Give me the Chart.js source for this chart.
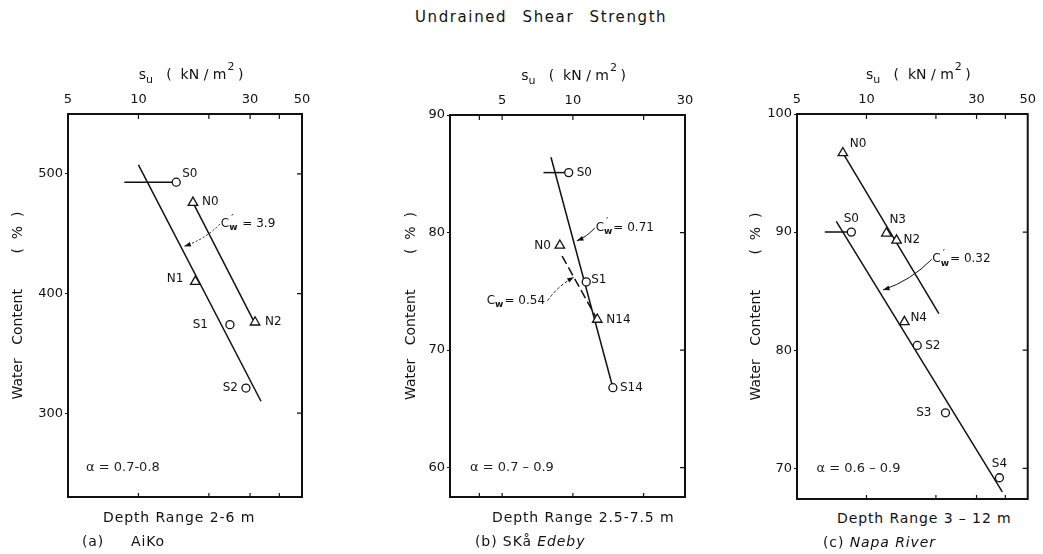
<!DOCTYPE html>
<html>
<head>
<meta charset="utf-8">
<script src="https://cdn.jsdelivr.net/npm/chart.js@4.4.0/dist/chart.umd.min.js"></script>
<style>
  body { margin: 0; background: #fff; width: 1043px; height: 554px; position: relative; overflow: hidden;
         font-family: 'DejaVu Sans', sans-serif; color: #111; }
  #title { position: absolute; top: 8px; left: 415px; font-size: 15px; word-spacing: 9px; letter-spacing: 1.6px; white-space: pre; }
  canvas { position: absolute; top: 40px; }
  .cap { position: absolute; font-size: 14px; letter-spacing: 0.9px; white-space: pre; }
  .it { font-style: italic; }
</style>
</head>
<body>
<div id="title">Undrained Shear Strength</div>

<canvas id="aiko" width="330" height="470" style="left:0px"></canvas>
<canvas id="edeby" width="330" height="470" style="left:380px"></canvas>
<canvas id="napa" width="318" height="470" style="left:725px"></canvas>

<div class="cap" style="left:103px;top:509px">Depth Range 2-6 m</div>
<div class="cap" style="left:82px;top:533px">(a)     AiKo</div>
<div class="cap" style="left:492px;top:509px">Depth Range 2.5-7.5 m</div>
<div class="cap" style="left:475px;top:533px">(b) SKå <span class="it">Edeby</span></div>
<div class="cap" style="left:837px;top:510px">Depth Range 3 – 12 m</div>
<div class="cap" style="left:823px;top:534px">(c) <span class="it">Napa River</span></div>

<script>
// --- (a) AiKo ---
const aikoSNames = ['S0', 'S1', 'S2'];
const aikoSSu = [14.5, 24.6, 28.8];
const aikoSW = [493, 374, 321];
const aikoNNames = ['N0', 'N1', 'N2'];
const aikoNSu = [17.1, 17.5, 31.5];
const aikoNW = [476, 410, 376];
const aikoSLineSu = [10, 33.4];
const aikoSLineW = [507.5, 310];
const aikoNLineSu = [17.3, 30.9];
const aikoNLineW = [474, 378];
const aikoS0RangeSu = [8.7, 14.5];
const aikoS0RangeW = [493, 493];
const aikoXLabels = [5, 10, 30, 50];
const aikoXMarks = [10, 20, 30, 40];
const aikoYTicks = [300, 400, 500];

// --- (b) Skå Edeby ---
const edebySNames = ['S0', 'S1', 'S14'];
const edebySSu = [9.6, 11.4, 14.8];
const edebySW = [85.1, 75.8, 66.8];
const edebyNNames = ['N0', 'N14'];
const edebyNSu = [8.8, 12.7];
const edebyNW = [78.9, 72.6];
const edebySLineSu = [8.07, 14.8];
const edebySLineW = [86.4, 66.8];
const edebyNLineSu = [9.0, 12.7];
const edebyNLineW = [78.0, 72.6];
const edebyS0RangeSu = [7.5, 9.6];
const edebyS0RangeW = [85.1, 85.1];
const edebyXLabels = [5, 10, 30];
const edebyXMarks = [4, 5, 10, 20];
const edebyYTicks = [60, 70, 80, 90];

// --- (c) Napa River ---
const napaSNames = ['S0', 'S2', 'S3', 'S4'];
const napaSSu = [8.6, 16.6, 22, 37.7];
const napaSW = [90, 80.4, 74.7, 69.2];
const napaNNames = ['N0', 'N3', 'N2', 'N4'];
const napaNSu = [7.9, 12.2, 13.5, 14.6];
const napaNW = [96.7, 89.9, 89.3, 82.4];
const napaSLineSu = [7.4, 38.8];
const napaSLineW = [90.9, 68];
const napaNLineSu = [7.9, 20.6];
const napaNLineW = [96.7, 83.1];
const napaS0RangeSu = [6.6, 8.6];
const napaS0RangeW = [90, 90];
const napaXLabels = [5, 10, 30, 50];
const napaXMarks = [10, 20, 30, 40];
const napaYTicks = [70, 80, 90, 100];

const FONT = "'DejaVu Sans', sans-serif";
const INK = '#111';

const pts = (xs, ys) => xs.map((x, i) => ({ x: x, y: ys[i] }));

// frame box + inward tick marks on all four sides
const framePlugin = {
  id: 'frame',
  afterDatasetsDraw(chart) {
    const { ctx, chartArea: a, scales } = chart;
    const p = chart.options.plugins.frame;
    ctx.save();
    ctx.strokeStyle = INK;
    ctx.lineWidth = 1.2;
    ctx.beginPath();
    p.xMarks.forEach(v => {
      const x = scales.x.getPixelForValue(v);
      ctx.moveTo(x, a.top); ctx.lineTo(x, a.top + 5);
      ctx.moveTo(x, a.bottom); ctx.lineTo(x, a.bottom - 4);
    });
    p.yTicks.forEach(v => {
      const y = scales.y.getPixelForValue(v);
      ctx.moveTo(a.right, y); ctx.lineTo(a.right - 5, y);
    });
    ctx.stroke();
    ctx.lineWidth = 2;
    ctx.strokeRect(a.left, a.top, a.right - a.left, a.bottom - a.top);
    ctx.restore();
  }
};

// C'w / Cw style label: C with prime and subscript w
function drawCw(ctx, x, y, prime, rest) {
  ctx.font = '12px ' + FONT;
  ctx.textAlign = 'left';
  ctx.textBaseline = 'middle';
  ctx.fillText('C', x, y);
  const w = ctx.measureText('C').width;
  ctx.font = 'bold 9px ' + FONT;
  ctx.fillText('w', x + w, y + 4);
  const ww = ctx.measureText('w').width;
  if (prime) {
    ctx.font = '10px ' + FONT;
    ctx.fillText('′', x + w + 2, y - 5);
  }
  ctx.font = '12px ' + FONT;
  ctx.fillText(rest, x + w + ww + 1, y);
}

function drawArrow(ctx, x1, y1, x2, y2, dash) {
  ctx.save();
  ctx.strokeStyle = INK;
  ctx.fillStyle = INK;
  ctx.lineWidth = 1;
  ctx.setLineDash(dash || []);
  const mx = (x1 + x2) / 2, my = (y1 + y2) / 2;
  const cx = mx + (y2 - y1) * 0.12, cy = my - (x2 - x1) * 0.12;
  ctx.beginPath();
  ctx.moveTo(x1, y1);
  ctx.quadraticCurveTo(cx, cy, x2, y2);
  ctx.stroke();
  ctx.setLineDash([]);
  const ang = Math.atan2(y2 - cy, x2 - cx);
  ctx.beginPath();
  ctx.moveTo(x2, y2);
  ctx.lineTo(x2 - 7 * Math.cos(ang - 0.35), y2 - 7 * Math.sin(ang - 0.35));
  ctx.lineTo(x2 - 7 * Math.cos(ang + 0.35), y2 - 7 * Math.sin(ang + 0.35));
  ctx.closePath();
  ctx.fill();
  ctx.restore();
}

// sample names, slope notes, alpha range and the s_u axis title
const notesPlugin = {
  id: 'notes',
  afterDraw(chart) {
    const { ctx, chartArea: a, scales } = chart;
    const p = chart.options.plugins.notes;
    const px = v => scales.x.getPixelForValue(v);
    const py = v => scales.y.getPixelForValue(v);
    ctx.save();
    ctx.fillStyle = INK;

    chart.data.datasets.forEach((ds, di) => {
      if (!ds.names) return;
      const meta = chart.getDatasetMeta(di);
      ctx.font = '12px ' + FONT;
      ctx.textBaseline = 'middle';
      ds.names.forEach((n, i) => {
        const el = meta.data[i];
        const [dx, dy, al] = ds.namePos[i];
        ctx.textAlign = al;
        ctx.fillText(n, el.x + dx, el.y + dy);
      });
    });

    p.notes.forEach(n => {
      drawCw(ctx, px(n.at[0]), py(n.at[1]), n.prime, n.rest);
      drawArrow(ctx, px(n.from[0]), py(n.from[1]), px(n.to[0]), py(n.to[1]), n.dash);
    });

    ctx.font = '13px ' + FONT;
    ctx.textAlign = 'left';
    ctx.textBaseline = 'middle';
    ctx.fillStyle = '#222';
    ctx.fillText(p.alpha, px(p.alphaAt[0]), py(p.alphaAt[1]));

    // s_u ( kN / m² )
    ctx.fillStyle = INK;
    const cx = (a.left + a.right) / 2 + 6, cy = a.top - 39;
    ctx.font = '14px ' + FONT;
    const ws = ctx.measureText('s').width;
    const rest = '   (  kN / m';
    const wr = ctx.measureText(rest).width;
    const wc = ctx.measureText(' )').width;
    ctx.font = '11px ' + FONT;
    const wu = ctx.measureText('u').width;
    const w2 = ctx.measureText('2').width;
    let x = cx - (ws + wu + wr + w2 + wc) / 2;
    ctx.font = '14px ' + FONT;
    ctx.fillText('s', x, cy); x += ws;
    ctx.font = '11px ' + FONT;
    ctx.fillText('u', x, cy + 5); x += wu;
    ctx.font = '14px ' + FONT;
    ctx.fillText(rest, x, cy); x += wr;
    ctx.font = '11px ' + FONT;
    ctx.fillText('2', x + 1, cy - 8); x += w2;
    ctx.font = '14px ' + FONT;
    ctx.fillText(' )', x, cy);
    ctx.restore();
  }
};

function buildPanel(id, p) {
  const circle = { pointStyle: 'circle', pointRadius: 4, backgroundColor: '#fff', borderColor: INK,
                   borderWidth: 1.3, showLine: false, order: 0 };
  const tri = { pointStyle: 'triangle', pointRadius: 5.5, backgroundColor: '#fff', borderColor: INK,
                borderWidth: 1.3, showLine: false, order: 0 };
  const line = { showLine: true, pointRadius: 0, borderColor: INK, borderWidth: 1.5, order: 1 };

  const datasets = [
    Object.assign({ label: 'S', data: pts(p.sSu, p.sW), names: p.sNames, namePos: p.sPos }, circle),
    Object.assign({ label: 'N', data: pts(p.nSu, p.nW), names: p.nNames, namePos: p.nPos }, tri),
    Object.assign({ label: 'S fit', data: pts(p.sLineSu, p.sLineW) }, line),
    Object.assign({ label: 'N fit', data: pts(p.nLineSu, p.nLineW), borderDash: p.nDash || [] }, line),
    Object.assign({ label: 'S0 range', data: pts(p.rangeSu, p.rangeW) }, line)
  ];

  return new Chart(document.getElementById(id), {
    type: 'scatter',
    data: { datasets: datasets },
    options: {
      responsive: false,
      animation: false,
      layout: { padding: { left: 0, right: p.padRight, top: 0, bottom: p.padBottom } },
      plugins: {
        legend: { display: false },
        tooltip: { enabled: false },
        frame: { xMarks: p.xMarks, yTicks: p.yTicks },
        notes: { notes: p.notes, alpha: p.alpha, alphaAt: p.alphaAt }
      },
      scales: {
        x: {
          type: 'logarithmic', position: 'top', min: p.xMin, max: p.xMax,
          afterBuildTicks: s => { s.ticks = p.xLabels.map(v => ({ value: v })); },
          afterFit: s => { s.height = p.topH; },
          ticks: { callback: v => String(v), color: INK, padding: 7, maxRotation: 0, autoSkip: false,
                   font: { family: FONT, size: 13 } },
          grid: { display: false, drawTicks: false },
          border: { display: false }
        },
        y: {
          type: 'linear', min: p.yMin, max: p.yMax,
          afterBuildTicks: s => { s.ticks = p.yTicks.map(v => ({ value: v })); },
          afterFit: s => { s.width = p.leftW; },
          ticks: { color: INK, padding: 2, font: { family: FONT, size: 13 } },
          grid: { drawOnChartArea: false, drawTicks: true, tickLength: 3, color: INK },
          border: { display: false },
          title: { display: true, text: 'Water   Content        (  %  )', color: INK, padding: { top: p.titlePad },
                   font: { family: FONT, size: 14 } }
        }
      }
    },
    plugins: [framePlugin, notesPlugin]
  });
}

buildPanel('aiko', {
  sNames: aikoSNames, sSu: aikoSSu, sW: aikoSW,
  nNames: aikoNNames, nSu: aikoNSu, nW: aikoNW,
  sLineSu: aikoSLineSu, sLineW: aikoSLineW, nLineSu: aikoNLineSu, nLineW: aikoNLineW,
  rangeSu: aikoS0RangeSu, rangeW: aikoS0RangeW,
  sPos: [[6, -8, 'left'], [-22, 0, 'right'], [-8, 0, 'right']],
  nPos: [[9, -1, 'left'], [-12, -3, 'right'], [10, 0, 'left']],
  xMin: 5, xMax: 50, yMin: 230, yMax: 550,
  xLabels: aikoXLabels, xMarks: aikoXMarks, yTicks: aikoYTicks,
  leftW: 68, topH: 74, padRight: 28, padBottom: 13, titlePad: 10,
  notes: [{ at: [22.5, 458], prime: true, rest: ' = 3.9', from: [22.3, 458], to: [15.7, 439.5], dash: [2, 2] }],
  alpha: 'α = 0.7-0.8', alphaAt: [5.97, 254.6]
});

buildPanel('edeby', {
  sNames: edebySNames, sSu: edebySSu, sW: edebySW,
  nNames: edebyNNames, nSu: edebyNSu, nW: edebyNW,
  sLineSu: edebySLineSu, sLineW: edebySLineW, nLineSu: edebyNLineSu, nLineW: edebyNLineW, nDash: [9, 4],
  rangeSu: edebyS0RangeSu, rangeW: edebyS0RangeW,
  sPos: [[8, 0, 'left'], [5, -2, 'left'], [7, 0, 'left']],
  nPos: [[-9, 0, 'right'], [9, 0, 'left']],
  xMin: 3, xMax: 30, yMin: 57.5, yMax: 90,
  xLabels: edebyXLabels, xMarks: edebyXMarks, yTicks: edebyYTicks,
  leftW: 70, topH: 75, padRight: 25, padBottom: 13, titlePad: 23,
  notes: [
    { at: [12.5, 80.4], prime: true, rest: '= 0.71', from: [12.4, 80.4], to: [10.4, 79.3] },
    { at: [4.3, 74.2], prime: false, rest: '= 0.54', from: [7.8, 74.2], to: [10.1, 76.2], dash: [3, 2] }
  ],
  alpha: 'α = 0.7 – 0.9', alphaAt: [3.65, 60]
});

buildPanel('napa', {
  sNames: napaSNames, sSu: napaSSu, sW: napaSW,
  nNames: napaNNames, nSu: napaNSu, nW: napaNW,
  sLineSu: napaSLineSu, sLineW: napaSLineW, nLineSu: napaNLineSu, nLineW: napaNLineW,
  rangeSu: napaS0RangeSu, rangeW: napaS0RangeW,
  sPos: [[0, -13, 'center'], [8, 0, 'left'], [-14, 0, 'right'], [0, -14, 'center']],
  nPos: [[7, -9, 'left'], [3, -13, 'left'], [7, 0, 'left'], [6, -4, 'left']],
  xMin: 5, xMax: 50, yMin: 67.4, yMax: 100,
  xLabels: napaXLabels, xMarks: napaXMarks, yTicks: napaYTicks,
  leftW: 72, topH: 74, padRight: 10, padBottom: 11, titlePad: 23,
  notes: [{ at: [19.3, 87.7], prime: true, rest: '= 0.32', from: [19.2, 87.7], to: [11.8, 85.1] }],
  alpha: 'α = 0.6 – 0.9', alphaAt: [6.08, 70]
});
</script>
</body>
</html>
